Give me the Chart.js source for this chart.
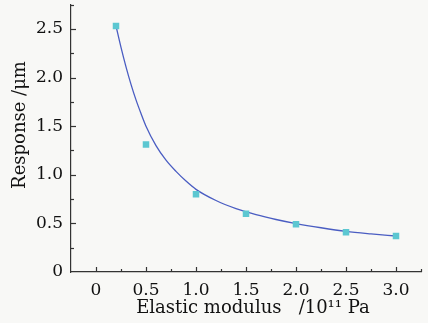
<!DOCTYPE html>
<html>
<head>
<meta charset="utf-8">
<script src="https://cdn.jsdelivr.net/npm/chart.js@4.4.0/dist/chart.umd.min.js"></script>
<style>
  html, body { margin: 0; padding: 0; background: #f8f8f6; }
  #wrap { width: 428px; height: 323px; }
</style>
</head>
<body>
<div id="wrap"><canvas id="myChart"></canvas></div>
<script>
// measured response for each elastic modulus (10^11 Pa -> um)
var modulus = [0.2, 0.5, 1.0, 1.5, 2.0, 2.5, 3.0];
var response = [2.53, 1.31, 0.80, 0.60, 0.49, 0.41, 0.37];

// fitted curve, read at points along its length
var fitModulus = [0.2, 0.25, 0.3, 0.35, 0.4, 0.45, 0.5, 0.6, 0.7, 0.8, 0.9, 1.0,
                  1.2, 1.4, 1.6, 1.8, 2.0, 2.25, 2.5, 2.75, 3.0];
var fitResponse = [2.53, 2.31, 2.11, 1.93, 1.77, 1.63, 1.50, 1.30, 1.15, 1.035, 0.935, 0.85,
                   0.735, 0.652, 0.59, 0.54, 0.498, 0.455, 0.418, 0.392, 0.37];

// axis ranges and tick step
var xMin = -0.25, xMax = 3.25;
var yMin = 0, yMax = 2.75;
var tickStep = 0.25;

var xTitle = "Elastic modulus   /10\u00B9\u00B9 Pa";
var yTitle = "Response /\u03BCm";

function toPoints(xs, ys) {
    return xs.map(function (x, i) { return { x: x, y: ys[i] }; });
}

function isMajor(v) {
    var r = Math.round(v * 100) / 100;
    return Math.abs(r * 2 - Math.round(r * 2)) < 1e-6;
}

function tickLabel(v) {
    var r = Math.round(v * 100) / 100;
    if (!isMajor(r) || r < 0 || r > 3) return null;
    return r === 0 ? "0" : r.toFixed(1);
}

var serif = "'DejaVu Serif', 'Liberation Serif', serif";
var axisColor = "#333333";

// inward tick marks and axis titles
var axisDecor = {
    id: 'axisDecor',
    afterDraw: function (chart) {
        var c = chart.ctx;
        var xs = chart.scales.x, ys = chart.scales.y;
        var area = chart.chartArea;
        var v, px, py;
        c.save();
        c.strokeStyle = axisColor;
        c.lineWidth = 1.2;
        for (v = xMin + tickStep; v <= xMax + 1e-6; v += tickStep) {
            px = Math.round(xs.getPixelForValue(v)) + 0.5;
            c.beginPath();
            c.moveTo(px, area.bottom);
            c.lineTo(px, area.bottom - (isMajor(v) ? 5 : 3));
            c.stroke();
        }
        for (v = yMin + tickStep; v <= yMax + 1e-6; v += tickStep) {
            py = Math.round(ys.getPixelForValue(v)) + 0.5;
            c.beginPath();
            c.moveTo(area.left, py);
            c.lineTo(area.left + (isMajor(v) ? 5 : 3), py);
            c.stroke();
        }

        c.fillStyle = "#111111";
        c.font = "18px " + serif;
        c.textAlign = "center";
        c.textBaseline = "middle";
        c.fillText(xTitle, 253, 308);

        c.translate(20, 125);
        c.rotate(-Math.PI / 2);
        c.fillText(yTitle, 0, 0);
        c.restore();
    }
};

const ctx = document.getElementById('myChart').getContext('2d');
const myChart = new Chart(ctx, {
    type: 'scatter',
    data: {
        datasets: [{
            label: 'Measured',
            data: toPoints(modulus, response),
            pointStyle: 'rect',
            pointRadius: 4.6,
            pointBackgroundColor: '#5cc7d1',
            pointBorderWidth: 0,
            showLine: false
        }, {
            label: 'Fit',
            data: toPoints(fitModulus, fitResponse),
            showLine: true,
            borderColor: '#4a5dc2',
            borderWidth: 1.3,
            pointRadius: 0,
            cubicInterpolationMode: 'monotone',
            fill: false
        }]
    },
    options: {
        responsive: true,
        maintainAspectRatio: false,
        animation: false,
        layout: { padding: { top: 4, right: 7, left: 0, bottom: 0 } },
        plugins: {
            legend: { display: false },
            tooltip: { enabled: false }
        },
        scales: {
            x: {
                type: 'linear',
                min: xMin,
                max: xMax,
                afterFit: function (s) {
                    s.height = 51;
                    s.paddingLeft = 0;
                    s.paddingRight = 0;
                },
                grid: { display: true, drawOnChartArea: false, drawTicks: false },
                border: { display: true, color: axisColor, width: 1.2 },
                ticks: {
                    stepSize: tickStep,
                    autoSkip: false,
                    maxRotation: 0,
                    padding: 8,
                    color: '#111111',
                    font: { family: serif, size: 17 },
                    callback: function (v) { return tickLabel(v); }
                }
            },
            y: {
                type: 'linear',
                min: yMin,
                max: yMax,
                afterFit: function (s) {
                    s.width = 71;
                    s.paddingTop = 0;
                    s.paddingBottom = 0;
                },
                grid: { display: true, drawOnChartArea: false, drawTicks: false },
                border: { display: true, color: axisColor, width: 1.2 },
                ticks: {
                    stepSize: tickStep,
                    autoSkip: false,
                    padding: 8,
                    color: '#111111',
                    font: { family: serif, size: 17 },
                    callback: function (v) { return tickLabel(v); }
                }
            }
        }
    },
    plugins: [axisDecor]
});
</script>
</body>
</html>
